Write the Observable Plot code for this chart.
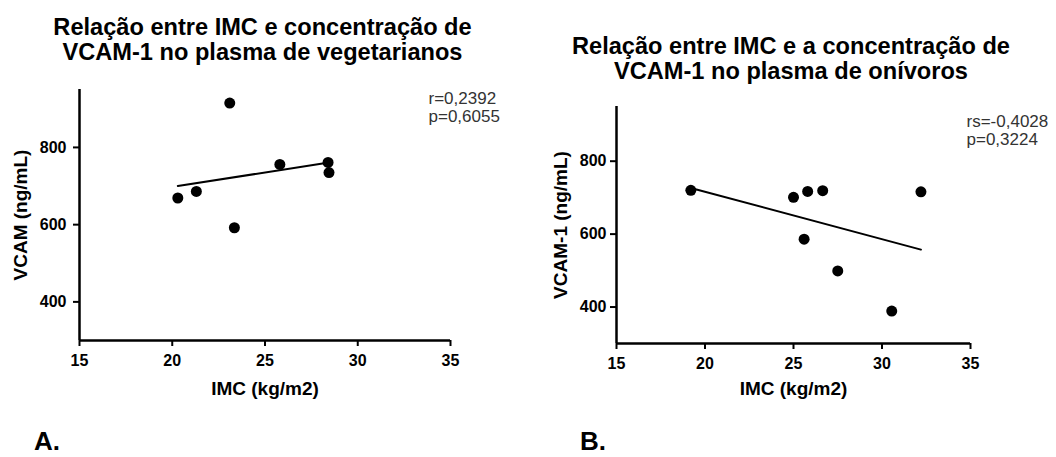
<!DOCTYPE html>
<html>
<head>
<meta charset="utf-8">
<script src="https://cdn.jsdelivr.net/npm/d3@7"></script>
<script src="https://cdn.jsdelivr.net/npm/@observablehq/plot@0.6"></script>
<style>
  html, body { margin: 0; padding: 0; background: #fff; }
  #root { position: relative; width: 1056px; height: 457px; overflow: hidden; font-family: "Liberation Sans", Arial, sans-serif; }
  .title { position: absolute; text-align: center; font-weight: bold; font-size: 23.6px; line-height: 25px; color: #000; white-space: nowrap; }
  .letter { position: absolute; font-weight: bold; font-size: 26px; color: #000; line-height: 26px; }
  .panel { position: absolute; top: 0; }
</style>
</head>
<body>
<div id="root">
  <div class="title" id="t1" style="left:0px; top:15px; width:525px;"></div>
  <div class="title" id="t2" style="left:528px; top:34px; width:526px;"></div>
  <div class="panel" id="p1" style="left:0px;"></div>
  <div class="panel" id="p2" style="left:528px;"></div>
  <div class="letter" style="left:34px; top:428px;">A.</div>
  <div class="letter" style="left:580px; top:428px;">B.</div>
</div>
<script>
// ---- data ----
const vegIMC  = [20.3, 21.3, 23.1, 23.35, 25.8, 28.4, 28.45];
const vegVCAM = [669, 686, 915, 592, 756, 761, 735];
const oniIMC  = [19.2, 25.0, 25.8, 26.65, 25.6, 27.5, 30.55, 32.2];
const oniVCAM = [720, 701, 717, 719, 586, 499, 389, 716];

const xDomain = [15, 35];
const yDomain = [300, 950];
const xTicks = [15, 20, 25, 30, 35];
const yTicks = [400, 600, 800];

const titleA = ["Relação entre IMC e concentração de", "VCAM-1 no plasma de vegetarianos"];
const titleB = ["Relação entre IMC e a concentração de", "VCAM-1 no plasma de onívoros"];
const xLabel = "IMC (kg/m2)";
const yLabelA = "VCAM (ng/mL)";
const yLabelB = "VCAM-1 (ng/mL)";
const statsA = "r=0,2392\np=0,6055";
const statsB = "rs=-0,4028\np=0,3224";

document.getElementById("t1").innerHTML = titleA.join("<br>");
document.getElementById("t2").innerHTML = titleB.join("<br>");

function panel(xs, ys, opts) {
  const data = xs.map((x, i) => ({x, y: ys[i]}));
  return Plot.plot({
    width: 528,
    height: 400,
    marginLeft: opts.ml,
    marginRight: opts.mr,
    marginTop: opts.mt,
    marginBottom: opts.mb,
    style: {fontFamily: "'Liberation Sans', Arial, sans-serif", color: "#000", background: "transparent", overflow: "visible"},
    x: {domain: xDomain},
    y: {domain: yDomain},
    marks: [
      Plot.axisX({ticks: xTicks, tickSize: 6, tickPadding: 8, fontSize: 16, fontWeight: "bold", strokeWidth: 2, label: null}),
      Plot.axisY({ticks: yTicks, tickSize: 6, tickPadding: opts.ytp, fontSize: 16, fontWeight: "bold", strokeWidth: 2, label: null}),
      Plot.ruleX([xDomain[0]], {stroke: "#000", strokeWidth: 2.5}),
      Plot.ruleY([yDomain[0]], {stroke: "#000", strokeWidth: 2.5}),
      Plot.linearRegressionY(data, {x: "x", y: "y", ci: 0, stroke: "#000", strokeWidth: 2}),
      Plot.dot(data, {x: "x", y: "y", r: 5.5, fill: "#000", stroke: "none"}),
      Plot.text([xLabel], {frameAnchor: "bottom", textAnchor: "middle", lineAnchor: "middle", dy: opts.xdy, fontSize: 19, fontWeight: "bold", fill: "#000"}),
      Plot.text([opts.ylabel], {frameAnchor: "left", textAnchor: "middle", lineAnchor: "middle", rotate: -90, dx: opts.ydx, fontSize: 19, fontWeight: "bold", fill: "#000"}),
      Plot.text([opts.stats], {frameAnchor: "top-right", textAnchor: "start", lineAnchor: "top", dx: opts.sdx, dy: opts.sdy, fontSize: 17, lineHeight: 1.1, fill: "#333"})
    ]
  });
}

document.getElementById("p1").appendChild(panel(vegIMC, vegVCAM, {
  ml: 79, mr: 78, mt: 89, mb: 60, ytp: 7, xdy: 48, ydx: -59, ylabel: yLabelA, stats: statsA, sdx: -22, sdy: 1
}));
document.getElementById("p2").appendChild(panel(oniIMC, oniVCAM, {
  ml: 88, mr: 86, mt: 106, mb: 57, ytp: 4, xdy: 45, ydx: -56, ylabel: yLabelB, stats: statsB, sdx: -4, sdy: 7
}));
</script>
</body>
</html>
